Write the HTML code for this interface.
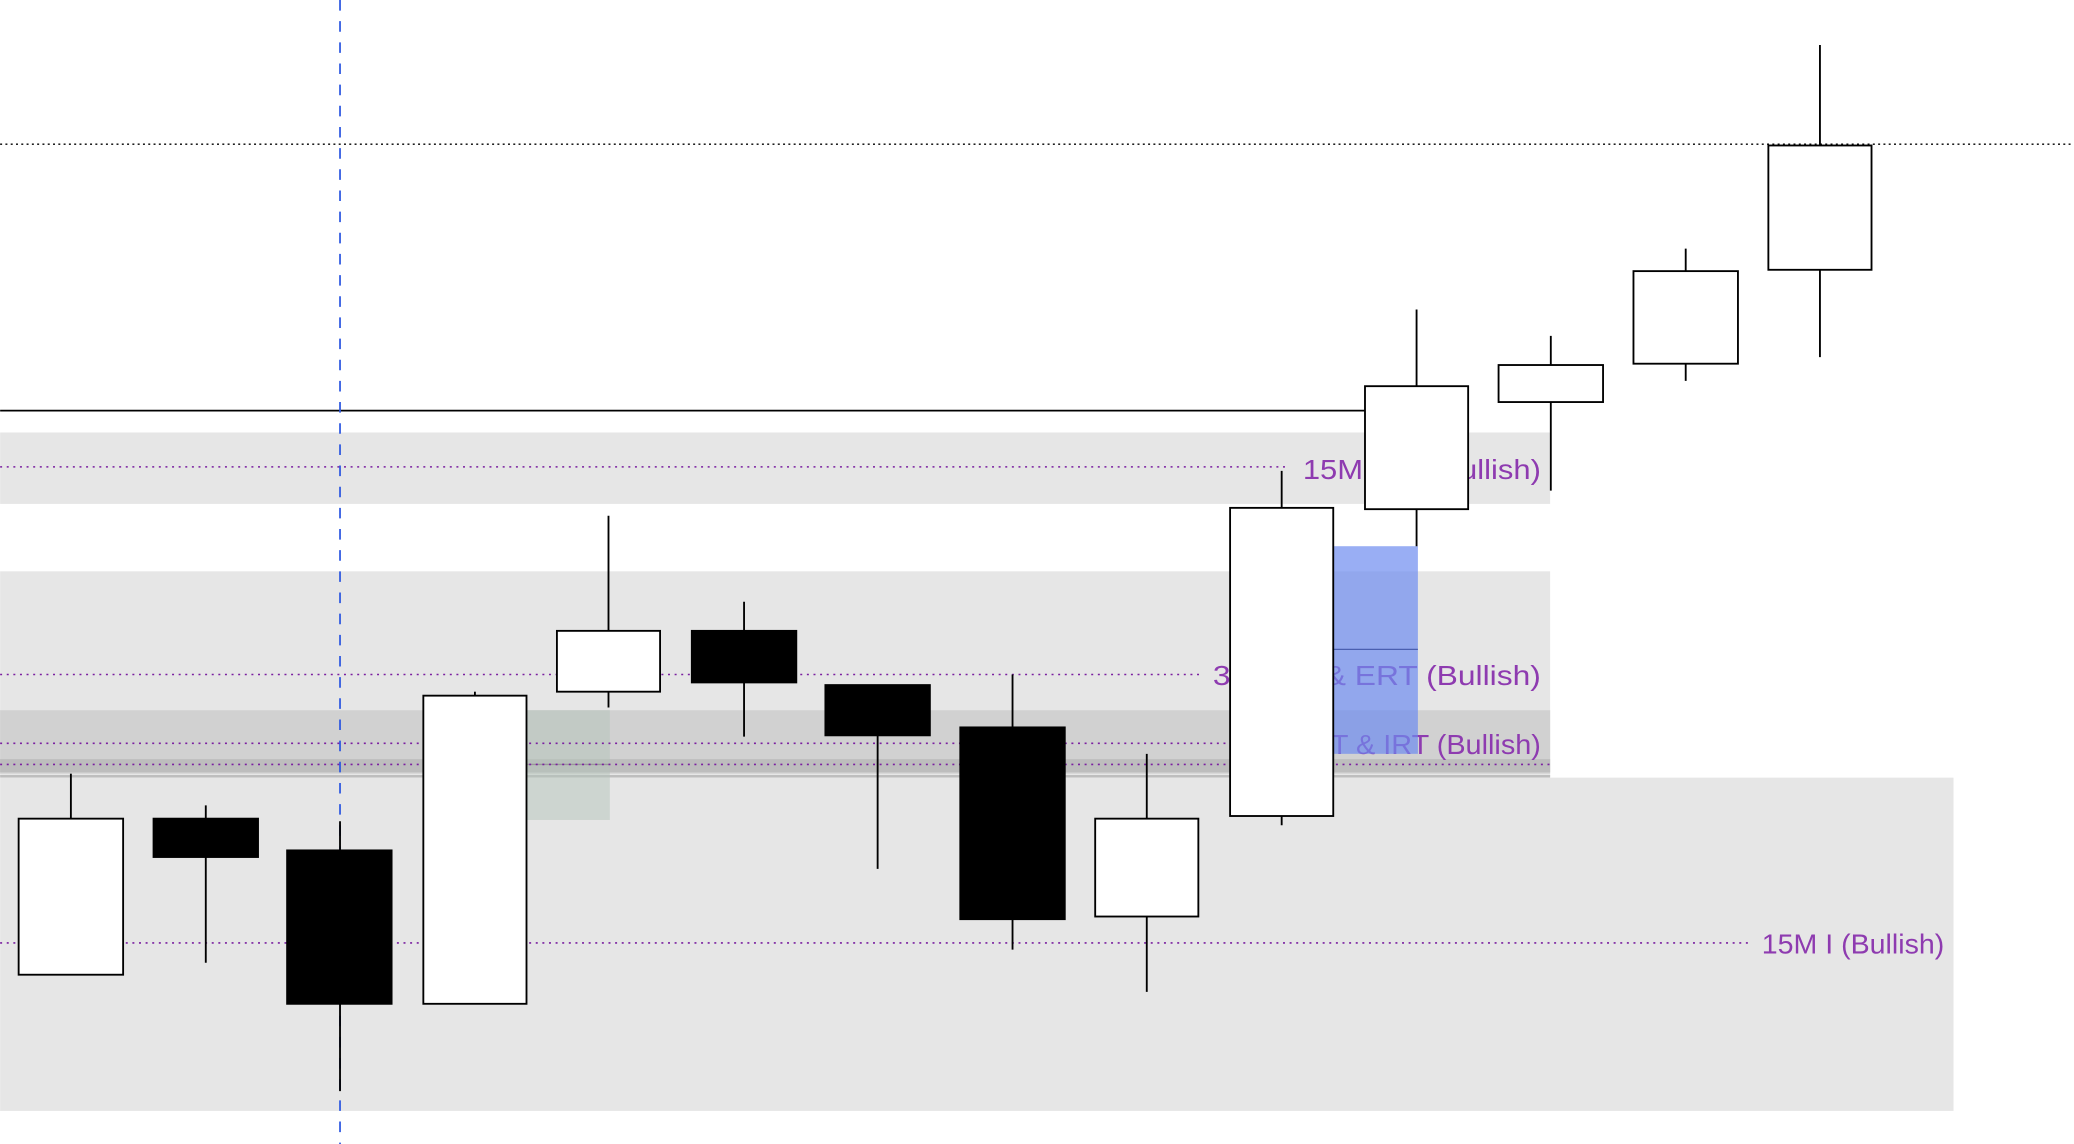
<!DOCTYPE html>
<html><head><style>html,body{margin:0;padding:0;background:#fff;overflow:hidden}svg{display:block}</style></head>
<body>
<svg width="2074" height="1144" viewBox="0 0 1568 865" xmlns="http://www.w3.org/2000/svg">
<rect width="1568" height="865" fill="#fff"/>
<rect x="0" y="327" width="1172" height="54" fill="#e6e6e6"/>
<rect x="0" y="432" width="1172" height="155" fill="#e6e6e6"/>
<rect x="0" y="537" width="1172" height="48" fill="#d1d1d1"/>
<rect x="0" y="574" width="1172" height="10" fill="#bdbdbd"/>
<rect x="0" y="586" width="1172" height="2" fill="#bdbdbd"/>
<rect x="0" y="588" width="1477" height="252" fill="#e6e6e6"/>
<rect x="398" y="537" width="63" height="83" fill="rgba(180,195,185,0.5)"/>
<line x1="398" y1="578" x2="461" y2="578" stroke="#999" stroke-width="1"/>
<g stroke="#7a1fa0" stroke-width="1.2" stroke-dasharray="1.5 3.5">
<line x1="0" y1="353" x2="975" y2="353"/>
<line x1="0" y1="510" x2="910" y2="510"/>
<line x1="0" y1="562" x2="935" y2="562"/>
<line x1="0" y1="578" x2="1172" y2="578"/>
<line x1="0" y1="713" x2="1322" y2="713"/>
</g>
<line x1="0" y1="109" x2="1568" y2="109" stroke="#000" stroke-width="1" stroke-dasharray="1.5 2.5"/>
<line x1="0" y1="310.5" x2="1032" y2="310.5" stroke="#000" stroke-width="1.3"/>
<g font-family="Liberation Sans, sans-serif" font-size="21" fill="#8e3bb0">
<text x="985" y="362" textLength="180" lengthAdjust="spacingAndGlyphs">15M IRT (Bullish)</text>
<text x="917" y="518" textLength="248" lengthAdjust="spacingAndGlyphs">3M IRT &amp; ERT (Bullish)</text>
<text x="940" y="570" textLength="225" lengthAdjust="spacingAndGlyphs">3M ERT &amp; IRT (Bullish)</text>
<text x="1332" y="721" textLength="138" lengthAdjust="spacingAndGlyphs">15M I (Bullish)</text>
</g>
<rect x="1008" y="413" width="64" height="157" fill="rgba(110,140,240,0.7)"/>
<line x1="1008" y1="491" x2="1072" y2="491" stroke="#4a5fb0" stroke-width="1"/>
<line x1="257" y1="0" x2="257" y2="865" stroke="#2a55e0" stroke-width="1.3" stroke-dasharray="8 8"/>
<g stroke="#000" stroke-width="1.4">
<line x1="53.5" y1="585" x2="53.5" y2="619"/><rect x="14" y="619" width="79" height="118" fill="#fff"/>
<line x1="155.5" y1="609" x2="155.5" y2="728"/><rect x="116" y="619" width="79" height="29" fill="#000"/>
<line x1="257" y1="621" x2="257" y2="825"/><rect x="217" y="643" width="79" height="116" fill="#000"/>
<line x1="359" y1="523" x2="359" y2="526"/><rect x="320" y="526" width="78" height="233" fill="#fff"/>
<line x1="460" y1="390" x2="460" y2="535"/><rect x="421" y="477" width="78" height="46" fill="#fff"/>
<line x1="562.5" y1="455" x2="562.5" y2="557"/><rect x="523" y="477" width="79" height="39" fill="#000"/>
<line x1="663.5" y1="518" x2="663.5" y2="657"/><rect x="624" y="518" width="79" height="38" fill="#000"/>
<line x1="765.5" y1="510" x2="765.5" y2="718"/><rect x="726" y="550" width="79" height="145" fill="#000"/>
<line x1="867" y1="570" x2="867" y2="750"/><rect x="828" y="619" width="78" height="74" fill="#fff"/>
<line x1="969" y1="356" x2="969" y2="624"/><rect x="930" y="384" width="78" height="233" fill="#fff"/>
<line x1="1071" y1="234" x2="1071" y2="413"/><rect x="1032" y="292" width="78" height="93" fill="#fff"/>
<line x1="1172.5" y1="254" x2="1172.5" y2="371"/><rect x="1133" y="276" width="79" height="28" fill="#fff"/>
<line x1="1274.5" y1="188" x2="1274.5" y2="288"/><rect x="1235" y="205" width="79" height="70" fill="#fff"/>
<line x1="1376" y1="34" x2="1376" y2="270"/><rect x="1337" y="110" width="78" height="94" fill="#fff"/>
</g>
</svg>
</body></html>
